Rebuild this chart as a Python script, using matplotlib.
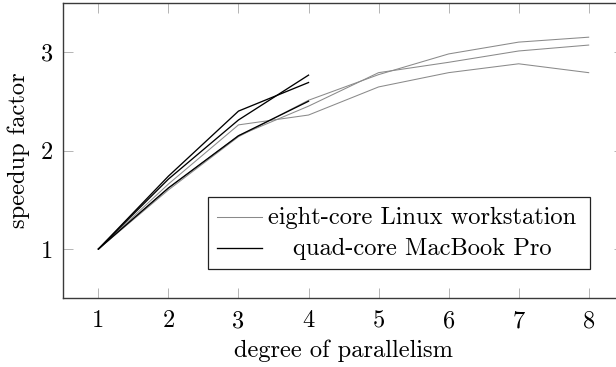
import matplotlib
matplotlib.use("Agg")
import matplotlib.pyplot as plt
from matplotlib.lines import Line2D
from matplotlib.patches import Rectangle

plt.rcParams['font.family'] = ['cmr10', 'DejaVu Serif']
plt.rcParams['mathtext.fontset'] = 'cm'
plt.rcParams['axes.unicode_minus'] = False
plt.rcParams['axes.formatter.use_mathtext'] = True

# degree of parallelism
x_linux = [1, 2, 3, 4, 5, 6, 7, 8]
x_mac = [1, 2, 3, 4]

# eight-core Linux workstation (three runs)
linux_run1 = [1.00, 1.66, 2.26, 2.36, 2.645, 2.79, 2.88, 2.79]
linux_run2 = [1.00, 1.60, 2.14, 2.51, 2.77, 2.98, 3.10, 3.15]
linux_run3 = [1.00, 1.62, 2.15, 2.45, 2.79, 2.895, 3.01, 3.07]

# quad-core MacBook Pro (three runs)
mac_run1 = [1.00, 1.74, 2.40, 2.69]
mac_run2 = [1.00, 1.71, 2.31, 2.765]
mac_run3 = [1.00, 1.62, 2.15, 2.50]

xticks = [1, 2, 3, 4, 5, 6, 7, 8]
yticks = [1, 2, 3]
label_linux = 'eight-core Linux workstation'
label_mac = 'quad-core MacBook Pro'

FS = 17.6
W, H = 616, 367
fig = plt.figure(figsize=(W / 100, H / 100), dpi=100)
ax = fig.add_axes([62.7 / W, (H - 298.3) / H, (624.4 - 62.7) / W, (298.3 - 2.7) / H])

gray = '#8a8a8a'
for run in (linux_run1, linux_run2, linux_run3):
    ax.plot(x_linux, run, color=gray, lw=0.75, solid_joinstyle='miter')
for run in (mac_run1, mac_run2, mac_run3):
    ax.plot(x_mac, run, color='black', lw=0.95, solid_joinstyle='miter')

ax.set_xlim(0.49, 8.51)
ax.set_ylim(0.5, 3.5)
ax.set_xticks(xticks)
ax.set_yticks(yticks)
ax.set_xticklabels([str(v) for v in xticks])
ax.set_yticklabels([str(v) for v in yticks])

ax.tick_params(direction='in', length=7.2, width=0.6, color='#a8a8a8',
               top=True, right=True, labelsize=FS, labelcolor='black')
ax.tick_params(axis='x', pad=8.5)
ax.tick_params(axis='y', pad=7)
for s in ax.spines.values():
    s.set_color('#3a3a3a')
    s.set_linewidth(1.0)

ax.set_xlabel('degree of parallelism', fontsize=FS, labelpad=5.5)
ax.set_ylabel('speedup factor', fontsize=FS, labelpad=7.5)

# legend drawn manually (centered text like pgfplots)
def fx(px):
    return px / W

def fy(py):
    return 1 - py / H

fig.patches.append(Rectangle((fx(208), fy(269)), fx(590) - fx(208), fy(197) - fy(269),
                             transform=fig.transFigure, facecolor='white',
                             edgecolor='#222222', lw=0.9, zorder=5))
fig.lines.append(Line2D([fx(217), fx(262)], [fy(217.3), fy(217.3)], transform=fig.transFigure,
                        color=gray, lw=0.75, zorder=6))
fig.lines.append(Line2D([fx(217), fx(262)], [fy(248.3), fy(248.3)], transform=fig.transFigure,
                        color='black', lw=0.95, zorder=6))
fig.text(fx(422.5), fy(223.5), label_linux, ha='center', va='baseline', fontsize=FS, zorder=7)
fig.text(fx(422), fy(255), label_mac, ha='center', va='baseline', fontsize=FS, zorder=7)

fig.savefig('out.png', dpi=100)
